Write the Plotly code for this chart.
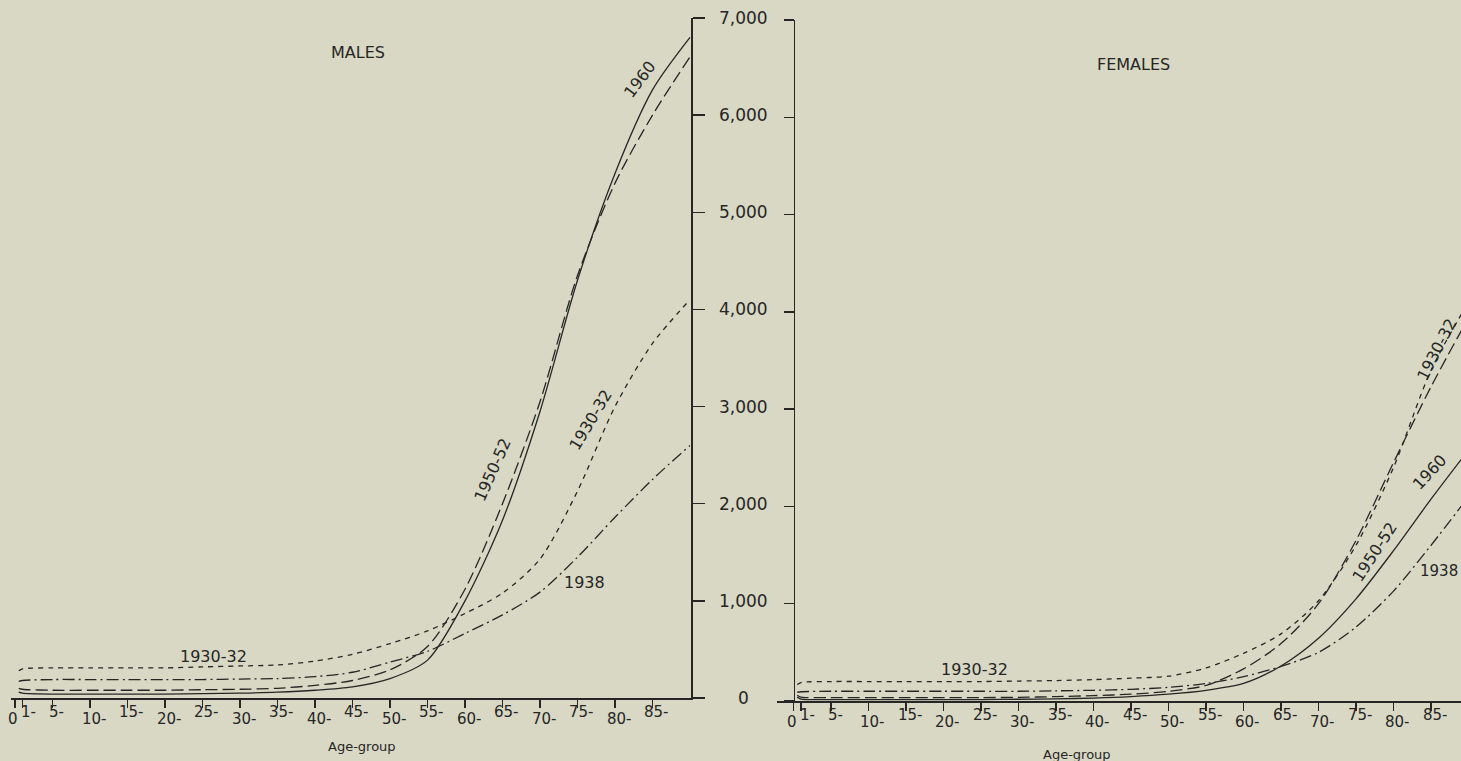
import plotly.graph_objects as go

# ---------------- data ----------------
ages = [0.5, 1, 5, 10, 15, 20, 25, 30, 35, 40, 45, 50, 55, 60, 65, 70, 75, 80, 85, 90]

males_1960 = [60, 50, 40, 40, 40, 40, 45, 50, 60, 80, 115, 200, 390, 1000, 1830, 2950, 4300, 5400, 6260, 6800]
males_1950_52 = [100, 90, 80, 80, 80, 80, 85, 90, 100, 130, 180, 290, 530, 1120, 2000, 3050, 4350, 5300, 6000, 6600]
males_1930_32 = [280, 300, 310, 310, 310, 310, 320, 330, 340, 380, 450, 560, 690, 870, 1080, 1430, 2130, 3000, 3650, 4100]
males_1938 = [170, 180, 190, 190, 190, 190, 190, 195, 200, 220, 265, 370, 480, 665, 855, 1090, 1450, 1860, 2250, 2600]

females_1960 = [40, 20, 15, 15, 15, 15, 15, 18, 22, 30, 45, 70, 110, 180, 360, 645, 1050, 1545, 2075, 2580]
females_1950_52 = [60, 40, 35, 35, 35, 35, 35, 38, 45, 55, 70, 100, 160, 330, 590, 1000, 1650, 2450, 3230, 3940]
females_1930_32 = [170, 190, 200, 200, 200, 200, 200, 205, 210, 220, 235, 255, 340, 490, 690, 1030, 1600, 2400, 3400, 4100]
females_1938 = [90, 95, 100, 100, 100, 100, 100, 100, 105, 110, 120, 140, 180, 250, 355, 500, 760, 1130, 1600, 2100]

tick_ages = [0, 1, 5, 10, 15, 20, 25, 30, 35, 40, 45, 50, 55, 60, 65, 70, 75, 80, 85]
tick_labels = ["0", "1-", "5-", "10-", "15-", "20-", "25-", "30-", "35-", "40-",
               "45-", "50-", "55-", "60-", "65-", "70-", "75-", "80-", "85-"]
y_vals = [0, 1000, 2000, 3000, 4000, 5000, 6000, 7000]
y_labels = ["0", "1,000", "2,000", "3,000", "4,000", "5,000", "6,000", "7,000"]

# ---------------- styling ----------------
W, H = 1461, 761
BG = "#d8d8c4"
INK = "#262626"
FONT = "DejaVu Sans"


def px(x, y):
    return x / W, 1 - y / H


styles = {
    "1960": dict(color=INK, width=1.3, dash="solid"),
    "1950-52": dict(color=INK, width=1.3, dash="12px,5px"),
    "1930-32": dict(color=INK, width=1.3, dash="5px,5px"),
    "1938": dict(color=INK, width=1.3, dash="12px,4px,2px,4px"),
}

fig = go.Figure()

male_series = [("1960", males_1960), ("1950-52", males_1950_52),
               ("1930-32", males_1930_32), ("1938", males_1938)]
female_series = [("1960", females_1960), ("1950-52", females_1950_52),
                 ("1930-32", females_1930_32), ("1938", females_1938)]

for name, vals in male_series:
    fig.add_trace(go.Scatter(x=ages, y=vals, mode="lines", name=name,
                             line=dict(shape="spline", smoothing=0.8, **styles[name]),
                             xaxis="x", yaxis="y", showlegend=False, hoverinfo="skip"))
for name, vals in female_series:
    fig.add_trace(go.Scatter(x=ages, y=vals, mode="lines", name=name,
                             line=dict(shape="spline", smoothing=0.8, **styles[name]),
                             xaxis="x2", yaxis="y2", showlegend=False, hoverinfo="skip"))

# pixel geometry
m_left, m_right = 11, 691          # male x-axis extent (age 0 at 15, 7.5 px / year)
m_y0, m_y7 = 698, 18               # male y pixel for 0 and 7000
f_left = 777                       # female x-axis start (age 0 at 793.5)
f_y0, f_y7 = 701, 20

m_px_per_year = 7.5
m_x0 = 15
f_x0 = 793.5

axis_common = dict(showgrid=False, zeroline=False, showline=True, linecolor=INK,
                   linewidth=1.5, ticks="outside", tickcolor=INK, tickwidth=1.5,
                   showticklabels=False, fixedrange=True)

fig.update_layout(
    width=W, height=H,
    margin=dict(l=0, r=0, t=0, b=0),
    paper_bgcolor=BG, plot_bgcolor=BG,
    font=dict(family=FONT, color=INK),
    xaxis=dict(domain=[m_left / W, m_right / W],
               range=[(m_left - m_x0) / m_px_per_year, (m_right - m_x0) / m_px_per_year],
               anchor="y", tickvals=tick_ages, ticklen=8, **axis_common),
    yaxis=dict(domain=[1 - m_y0 / H, 1 - m_y7 / H], range=[0, 7000], anchor="x",
               side="right", tickvals=y_vals, ticklen=12, **axis_common),
    xaxis2=dict(domain=[f_left / W, 1.0],
                range=[(f_left - f_x0) / m_px_per_year, (W - f_x0) / m_px_per_year],
                anchor="y2", tickvals=tick_ages, ticklen=8, **axis_common),
    yaxis2=dict(domain=[1 - f_y0 / H, 1 - f_y7 / H], range=[0, 7000], anchor="free",
                position=f_x0 / W, side="left", tickvals=y_vals, ticklen=10, **axis_common),
)

ann = []

# shared y tick labels in the gap between the panels
for v, t in zip(y_vals, y_labels):
    ann.append(dict(x=743 / W, xref="paper", y=v, yref="y", text=t, showarrow=False,
                    xanchor="center", yanchor="middle",
                    font=dict(size=17, family=FONT, color=INK)))

# x tick labels (staggered)
for a, t in zip(tick_ages, tick_labels):
    high = (a % 10 == 5) or a == 1
    for xr, base in (("x", 0), ("x2", 3)):
        ypix = (712 if high else 719) + base
        xs = 6 if a == 1 else (-2 if a == 0 else 4)
        ann.append(dict(x=a, xref=xr, y=1 - ypix / H, yref="paper", text=t,
                        showarrow=False, xanchor="center", yanchor="middle", xshift=xs,
                        font=dict(size=15, family=FONT, color=INK)))

# titles / axis titles
for txt, (x, y), size in [("MALES", (358, 53), 16), ("FEMALES", (1133, 64), 16),
                          ("Age-group", (362, 746), 13), ("Age-group", (1077, 754), 13)]:
    xx, yy = px(x, y)
    ann.append(dict(x=xx, y=yy, xref="paper", yref="paper", text=txt, showarrow=False,
                    xanchor="center", yanchor="middle",
                    font=dict(size=size, family=FONT, color=INK)))

# curve labels
curve_labels = [
    ("1960", 640, 80, -53, "center", 16),
    ("1950-52", 492, 470, -66, "center", 16),
    ("1930-32", 590, 420, -59, "center", 16),
    ("1938", 584, 582, 0, "center", 16),
    ("1930-32", 214, 656, 0, "center", 16),
    ("1930-32", 975, 669, 0, "center", 16),
    ("1930-32", 1437, 350, -63, "center", 16),
    ("1950-52", 1374, 552, -57, "center", 16),
    ("1960", 1429, 472, -47, "center", 16),
    ("1938", 1460, 571, 0, "right", 15),
]
for txt, x, y, ang, xa, sz in curve_labels:
    xx, yy = px(x, y)
    ann.append(dict(x=xx, y=yy, xref="paper", yref="paper", text=txt, showarrow=False,
                    xanchor=xa, yanchor="middle", textangle=ang,
                    font=dict(size=sz, family=FONT, color=INK)))

fig.update_layout(annotations=ann)

fig.write_html("out.html",
               config={"displayModeBar": False, "staticPlot": True},
               post_script="document.body.style.margin='0';document.body.style.overflow='hidden';")
